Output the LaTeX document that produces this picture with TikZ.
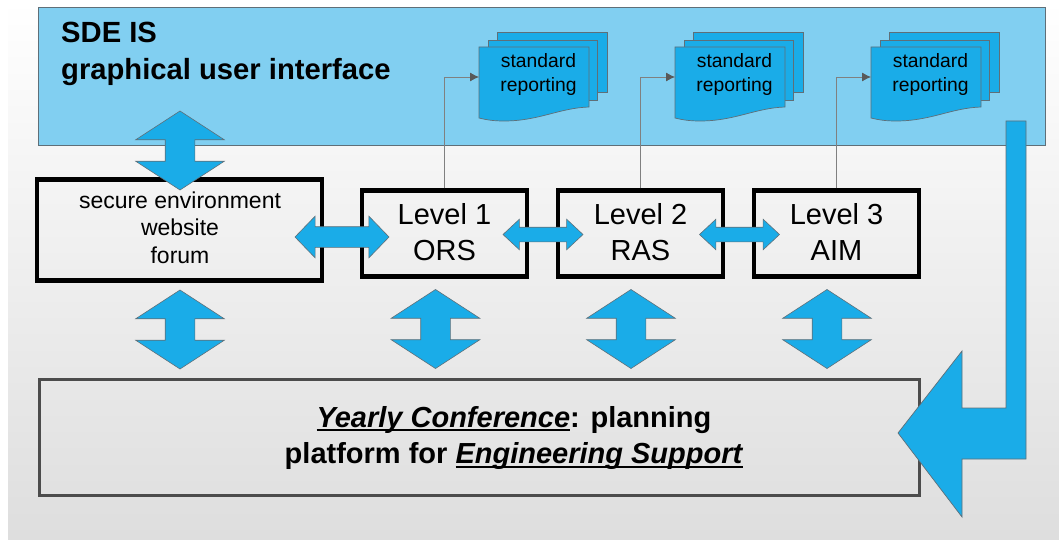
\documentclass[tikz,border=0pt]{standalone}
\usepackage{fontspec}
\setmainfont{Liberation Sans}
\usepackage{tikz}
\usetikzlibrary{shapes.arrows,arrows.meta}
\definecolor{sdeblue}{HTML}{1AACE8}
\definecolor{sdelight}{HTML}{81CFF1}
\definecolor{sdeline}{HTML}{5F6F78}
\newcommand{\lowrule}[1]{\leavevmode\setbox0=\hbox{\textit{#1}}\rlap{\vrule width\wd0 height-2pt depth4pt}\box0}
\tikzset{
  levelbox/.style={draw=black, line width=4.3pt, minimum width=165pt, minimum height=86pt, inner sep=0pt, align=center, text depth=3pt, font=\fontsize{29}{35.5}\selectfont},
  vertarrow/.style={shape=double arrow, rotate=90, draw=sdeline, line width=0.6pt, fill=sdeblue, inner sep=14.5pt, minimum width=0pt, minimum height=79pt, double arrow head extend=29.5pt, double arrow tip angle=114},
  horzarrow/.style={shape=double arrow, draw=sdeline, line width=0.6pt, fill=sdeblue, inner sep=7pt, minimum width=0pt, minimum height=80pt, double arrow head extend=8pt, double arrow tip angle=86},
  feedline/.style={draw=gray, line width=0.8pt, -{Latex[length=9pt,width=9pt,color=black!65]}},
  sheet/.style={draw=sdeline, line width=0.7pt, fill=sdeblue},
  pics/reportstack/.style={code={
    \draw[sheet] (18,-45) rectangle (128,15);
    \draw[sheet] (9,-37) rectangle (118,23);
    \draw[sheet] (0,-30) -- (110,-30) -- (110,30) .. controls (80,31) and (60,44) .. (25,44) .. controls (15,44) and (8,43) .. (0,41) -- cycle;
    \node[inner sep=0pt, minimum width=110pt, minimum height=60pt, anchor=west] (-doc) at (0,0) {};
    \node[inner sep=0pt, align=center, font=\fontsize{19.3}{24}\selectfont] (-text) at (59.5,-2) {standard\\reporting};
  }}
}
\begin{document}
\begin{tikzpicture}[x=1pt, y=-1pt]
\useasboundingbox (0,0) rectangle (1059,540);
\shade[top color=white, bottom color=black!13] (8,0) rectangle (1059,540);
\node[draw=sdeline, line width=0.8pt, fill=sdelight, minimum width=1007pt, minimum height=138pt, inner sep=0pt] (gui) at (541.5,76) {};
\node[anchor=north west, inner sep=0pt, align=left, font=\bfseries\fontsize{29.2}{36.5}\selectfont] (guitext) at (61,22) {SDE IS\\graphical user interface};
\node[draw=black, line width=4.5pt, minimum width=285pt, minimum height=100.5pt, inner sep=0pt] (env) at (179.5,230) {};
\node[inner sep=0pt, align=center, font=\fontsize{23}{27.5}\selectfont] (envtext) at (180,227.5) {secure environment\\website\\forum};
\node[levelbox] (ors) at (444.5,233.5) {Level 1\\ORS};
\node[levelbox] (ras) at (640.5,233.5) {Level 2\\RAS};
\node[levelbox] (aim) at (836.5,233.5) {Level 3\\AIM};
\node[draw=black!70, line width=3pt, minimum width=880pt, minimum height=116pt, inner sep=0pt] (conf) at (479,437) {};
\node[inner sep=0pt, align=center, font=\bfseries\fontsize{29}{36.5}\selectfont] (conftext) at (514,438) {\lowrule{Yearly Conference}: planning\\platform for \lowrule{Engineering Support}};
\pic (rep1) at (479,77) {reportstack};
\pic (rep2) at (675,77) {reportstack};
\pic (rep3) at (871,77) {reportstack};
\draw[feedline] (ors.north) |- (rep1-doc.west);
\draw[feedline] (ras.north) |- (rep2-doc.west);
\draw[feedline] (aim.north) |- (rep3-doc.west);
\node[vertarrow] (guiarrow) at (180,150.5) {};
\node[vertarrow] (envarrow) at (180,329.5) {};
\node[vertarrow] (orsarrow) at (435.5,329) {};
\node[vertarrow] (rasarrow) at (631,329) {};
\node[vertarrow] (aimarrow) at (827,329) {};
\node[horzarrow, inner sep=10pt, minimum height=94pt, double arrow head extend=10.5pt, double arrow tip angle=92] (envors) at (342,237) {};
\node[horzarrow] (orsras) at (543,234.5) {};
\node[horzarrow] (rasaim) at (739.5,234.5) {};
\draw[sheet] (1006,121) -- (1026,121) -- (1026,459) -- (962,459) -- (962,517) -- (898,433) -- (962,351) -- (962,408) -- (1006,408) -- cycle;
\end{tikzpicture}
\end{document}
